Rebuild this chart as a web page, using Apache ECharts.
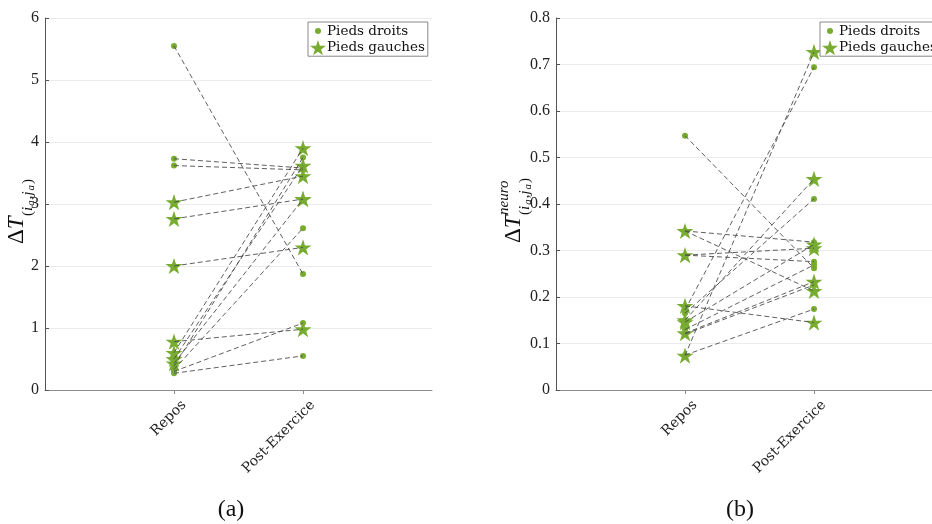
<!DOCTYPE html>
<html><head><meta charset="utf-8">
<script src="https://cdn.jsdelivr.net/npm/echarts@6/dist/echarts.min.js"></script>
<style>html,body{margin:0;padding:0;background:#fff}#c{width:932px;height:524px}</style>
</head><body><div id="c"></div>
<script>
// ---------- data ----------
const categories = ['Repos', 'Post-Exercice'];
// chart (a)
const aDroitRepos  = [5.55, 3.73, 3.62, 0.38, 0.33, 0.30, 0.27];
const aDroitPost   = [1.87, 3.58, 3.55, 3.75, 2.61, 1.08, 0.55];
const aGaucheRepos = [3.03, 2.76, 2.00, 0.78, 0.60, 0.50, 0.43];
const aGauchePost  = [3.45, 3.08, 2.30, 0.98, 3.90, 3.62, 3.08];
// chart (b)
const bDroitRepos  = [0.547, 0.342, 0.290, 0.172, 0.165, 0.130, 0.120, 0.075];
const bDroitPost   = [0.262, 0.318, 0.276, 0.694, 0.411, 0.269, 0.226, 0.174];
const bGaucheRepos = [0.342, 0.290, 0.181, 0.150, 0.146, 0.122, 0.074];
const bGauchePost  = [0.213, 0.305, 0.145, 0.454, 0.313, 0.233, 0.727];
const legendNames = ['Pieds droits', 'Pieds gauches'];
const subLabels = ['(a)', '(b)'];

// ---------- styles ----------
const GREEN = '#77AC30';
const STAR = 'path://M50 0L61.23 34.55L97.55 34.55L68.16 55.9L79.39 90.45L50 69.1L20.61 90.45L31.84 55.9L2.45 34.55L38.77 34.55Z';
const SMALLDOT = 'path://M0 0M16 16M11 8A3 3 0 1 1 5 8A3 3 0 1 1 11 8Z';
const SERIF = '"Liberation Serif", "DejaVu Serif", serif';
const WSERIF = '"DejaVu Serif", serif';

const chart = echarts.init(document.getElementById('c'), null, {renderer: 'canvas'});

function xAx(gi, max) {
  return {
    type: 'value', gridIndex: gi, min: 0, max: max, interval: 1,
    axisLine: {show: true, lineStyle: {color: '#8c8c8c', width: 1}},
    axisTick: {show: true, customValues: [1, 2], length: 4, lineStyle: {color: '#8c8c8c'}},
    axisLabel: {customValues: [1, 2], formatter: v => categories[v - 1] || '',
      rotate: 45, fontFamily: WSERIF, fontSize: 14, color: '#222', margin: 3,
      verticalAlign: 'top', padding: [7, 0, 0, 0]},
    splitLine: {show: true, showMinLine: false, showMaxLine: false, lineStyle: {color: '#ebebeb'}}
  };
}
function yAx(gi, max, interval) {
  return {
    type: 'value', gridIndex: gi, min: 0, max: max, interval: interval,
    axisLine: {show: true, lineStyle: {color: '#555', width: 1}},
    axisTick: {show: true, inside: true, length: 4, lineStyle: {color: '#555'}},
    axisLabel: {fontFamily: SERIF, fontSize: 16, color: '#222', margin: 6},
    splitLine: {show: true, showMaxLine: true, lineStyle: {color: '#ebebeb'}}
  };
}

const series = [];
function addPairs(gi, repos, post) {
  repos.forEach((r, i) => {
    series.push({
      type: 'line', xAxisIndex: gi, yAxisIndex: gi, silent: true, z: 4,
      symbol: 'none', data: [[1, r], [2, post[i]]],
      lineStyle: {color: '#4d4d4d', width: 0.9, type: [5, 3]}
    });
  });
}
function addMarks(gi, name, repos, post, symbol, size) {
  const d = repos.map(v => [1, v]).concat(post.map(v => [2, v]));
  series.push({
    type: 'scatter', name: name, xAxisIndex: gi, yAxisIndex: gi, z: 3,
    symbol: symbol, symbolSize: size, symbolKeepAspect: true, data: d,
    itemStyle: {color: GREEN, opacity: 1}
  });
}
addPairs(0, aDroitRepos, aDroitPost);
addPairs(0, aGaucheRepos, aGauchePost);
addPairs(1, bDroitRepos, bDroitPost);
addPairs(1, bGaucheRepos, bGauchePost);
addMarks(0, legendNames[0], aDroitRepos, aDroitPost, 'circle', 6);
addMarks(0, legendNames[1], aGaucheRepos, aGauchePost, STAR, 17);
addMarks(1, legendNames[0], bDroitRepos, bDroitPost, 'circle', 6);
addMarks(1, legendNames[1], bGaucheRepos, bGauchePost, STAR, 17);

function legendAt(left) {
  return {
    left: left, top: 22, orient: 'vertical', itemGap: 1, itemWidth: 16, itemHeight: 16,
    padding: [1, 3, 1, 2], borderColor: '#888', borderWidth: 1, backgroundColor: '#fff',
    selectedMode: false,
    textStyle: {fontFamily: WSERIF, fontSize: 13.5, color: '#111', padding: [0, 0, 0, -4]},
    data: [
      {name: legendNames[0], icon: SMALLDOT, itemStyle: {color: GREEN}},
      {name: legendNames[1], icon: STAR, itemStyle: {color: GREEN}}
    ]
  };
}

function subsup(x, y, sup) {
  const children = [
    {type: 'text', x: 0, y: 0, style: {text: '{n|Δ}{i|T}', align: 'left', verticalAlign: 'middle',
      rich: {n: {fontFamily: SERIF, fontSize: 23, fill: '#111'}, i: {fontFamily: SERIF, fontStyle: 'italic', fontSize: 23, fill: '#111'}}}},
    {type: 'text', x: 28, y: 11, style: {text: '{p|(}{i|i}{s|a}{p|,}{i|j}{s|a}{p|)}', align: 'left', verticalAlign: 'middle',
      rich: {p: {fontFamily: SERIF, fontSize: 15, fill: '#111'}, i: {fontFamily: SERIF, fontStyle: 'italic', fontSize: 15, fill: '#111', padding: [0, 1, 0, 0]},
             s: {fontFamily: SERIF, fontStyle: 'italic', fontSize: 11, fill: '#111', verticalAlign: 'bottom', padding: [7, 1, 0, 0]}}}}
  ];
  if (sup) {
    children.push({type: 'text', x: 28, y: -10, style: {text: sup, align: 'left', verticalAlign: 'middle',
      fontFamily: SERIF, fontStyle: 'italic', fontSize: 15, fill: '#111'}});
  }
  return {type: 'group', x: x, y: y, rotation: Math.PI / 2, children: children};
}

chart.setOption({
  animation: false,
  grid: [
    {left: 45, top: 18, width: 387, height: 372},
    {left: 556, top: 18, width: 376, height: 372}
  ],
  xAxis: [xAx(0, 3), xAx(1, 376 / 129)],
  yAxis: [yAx(0, 6, 1), yAx(1, 0.8, 0.1)],
  legend: [legendAt(308), legendAt(820)],
  series: series,
  graphic: [
    subsup(17, 244, null),
    subsup(514, 243, 'neuro'),
    {type: 'text', x: 231, y: 510, style: {text: subLabels[0], align: 'center', verticalAlign: 'middle', fontFamily: SERIF, fontSize: 24, fill: '#111'}},
    {type: 'text', x: 740, y: 510, style: {text: subLabels[1], align: 'center', verticalAlign: 'middle', fontFamily: SERIF, fontSize: 24, fill: '#111'}}
  ]
});
</script>
</body></html>
